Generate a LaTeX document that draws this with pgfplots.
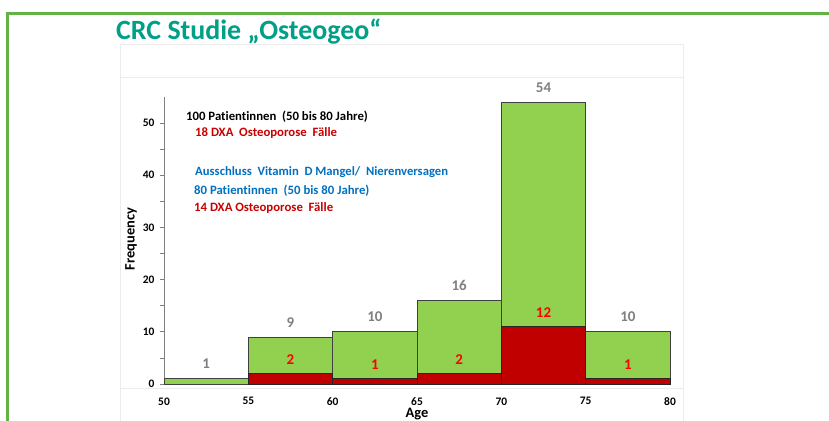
\documentclass[border=0pt]{standalone}
\usepackage{pgfplots}
\pgfplotsset{compat=1.18}
\usepackage{fontspec}
\setmainfont{Carlito}[Ligatures=NoCommon]
\definecolor{framegreen}{RGB}{98,178,70}
\definecolor{titlegreen}{RGB}{0,160,136}
\definecolor{barGreen}{RGB}{146,208,80}
\definecolor{barRed}{RGB}{192,0,0}
\definecolor{txtRed}{RGB}{200,0,0}
\definecolor{lblRed}{RGB}{255,0,0}
\definecolor{txtBlue}{RGB}{0,112,192}
\definecolor{lblGray}{RGB}{128,128,128}
\newcommand{\fs}[1]{\fontsize{#1}{#1}\selectfont}
\begin{document}
\begin{tikzpicture}
\useasboundingbox (0,0) rectangle (829bp,-421bp);
\fill[white] (0,0) rectangle (829bp,-421bp);
\draw[framegreen, line width=3bp] (7.5bp,-421bp) -- (7.5bp,-13.5bp) -- (829bp,-13.5bp);
\draw[gray!15, line width=0.8bp] (120bp,-425bp) -- (120bp,-44bp) -- (683bp,-44bp) -- (683bp,-425bp);
\draw[gray!15, line width=0.8bp] (120bp,-77bp) -- (683bp,-77bp);
\draw[gray!15, line width=0.8bp] (120bp,-388bp) -- (683bp,-388bp);
\node[anchor=base west, inner sep=0, text=titlegreen, font=\bfseries\fs{28}] at (116bp,-39.5bp) {CRC Studie „Osteogeo“};
\begin{axis}[
  scale only axis, width=506bp, height=287bp,
  at={(164bp,-384bp)}, anchor=south west,
  xmin=50, xmax=80, ymin=0, ymax=55,
  clip=false,
  axis lines*=left,
  x axis line style={draw=none},
  y axis line style={draw=lblGray, line width=1bp},
  xtick={50,55,...,80}, ytick={0,10,...,50}, minor ytick={5,15,...,45},
  tick align=outside, major tick length=4bp, minor tick length=4bp,
  x tick style={draw=none},
  y tick style={draw=lblGray, line width=0.8bp},
  minor y tick style={draw=lblGray, line width=0.8bp},
  /pgf/number format/assume math mode=true,
  ticklabel style={font=\bfseries\fs{11.5}, text=black},
  xticklabel style={anchor=north, yshift=-6bp},
  yticklabel style={anchor=east, xshift=-2bp},
  xlabel={Age}, ylabel={Frequency},
  every axis x label/.style={at={(axis description cs:0.5,-0.105)}, anchor=center, font=\bfseries\fs{14.5}},
  every axis y label/.style={at={(axis description cs:-0.065,0.505)}, anchor=center, rotate=90, font=\bfseries\fs{14.5}},
]
\addplot[ybar interval, fill=barGreen, draw=black!75, line width=0.8bp] coordinates {(50,1) (55,9) (60,10) (65,16) (70,54) (75,10) (80,10)};
\addplot[ybar interval, fill=barRed, draw=black!85, line width=0.8bp] coordinates {(55,2) (60,1) (65,2) (70,11) (75,1) (80,1)};
\foreach \x/\y in {52.5/1, 57.5/9, 62.5/10, 67.5/16, 72.5/54, 77.5/10}{
  \edef\tmp{\noexpand\node[anchor=base, inner sep=0, text=lblGray, font=\noexpand\bfseries\noexpand\fs{15}, yshift=10bp] at (axis cs:\x,\y) {\y};}\tmp
}
\node[anchor=base, inner sep=0, text=lblRed, font=\bfseries\fs{15}, yshift=9bp] at (axis cs:57.5,2) {2};
\node[anchor=base, inner sep=0, text=lblRed, font=\bfseries\fs{15}, yshift=9bp] at (axis cs:62.5,1) {1};
\node[anchor=base, inner sep=0, text=lblRed, font=\bfseries\fs{15}, yshift=9bp] at (axis cs:67.5,2) {2};
\node[anchor=base, inner sep=0, text=lblRed, font=\bfseries\fs{15}, yshift=9bp] at (axis cs:72.5,11) {12};
\node[anchor=base, inner sep=0, text=lblRed, font=\bfseries\fs{15}, yshift=9bp] at (axis cs:77.5,1) {1};
\end{axis}
\node[anchor=base west, inner sep=0, text=black, font=\bfseries\fs{12.8}] at (186bp,-120bp) {100 Patientinnen\ \ (50 bis 80 Jahre)};
\node[anchor=base west, inner sep=0, text=txtRed, font=\bfseries\fs{12.8}] at (195bp,-136bp) {18 DXA\ \ Osteoporose\ \ Fälle};
\node[anchor=base west, inner sep=0, text=txtBlue, font=\bfseries\fs{12.7}] at (195bp,-175bp) {Ausschluss\ \ Vitamin\ \ D Mangel/\ \ Nierenversagen};
\node[anchor=base west, inner sep=0, text=txtBlue, font=\bfseries\fs{12.8}] at (194bp,-194bp) {80 Patientinnen\ \ (50 bis 80 Jahre)};
\node[anchor=base west, inner sep=0, text=txtRed, font=\bfseries\fs{12.8}] at (194bp,-211bp) {14 DXA Osteoporose\ \ Fälle};
\end{tikzpicture}
\end{document}
